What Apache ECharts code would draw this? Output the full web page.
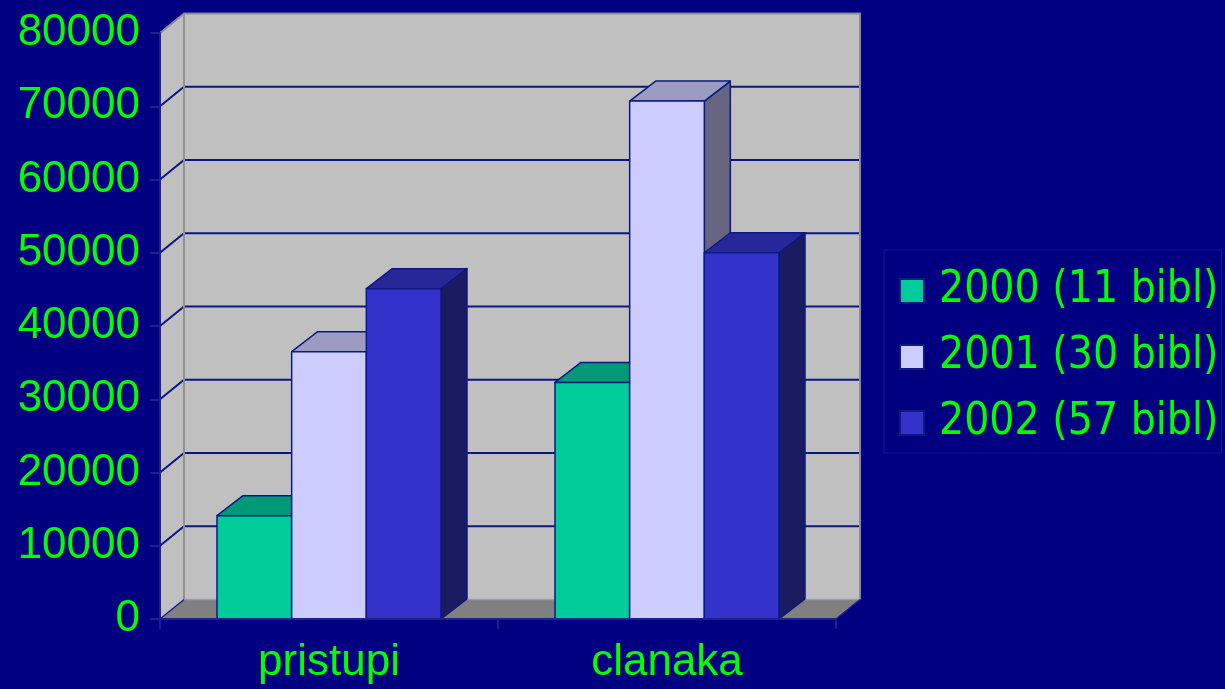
<!DOCTYPE html>
<html>
<head>
<meta charset="utf-8">
<script src="https://cdn.jsdelivr.net/npm/echarts@6/dist/echarts.min.js"></script>
<style>
html,body{margin:0;padding:0;background:#000080;}
#chart{width:1225px;height:689px;}
</style>
</head>
<body>
<div id="chart"></div>
<script>
// ---- data ----
const categories = ['pristupi', 'clanaka'];
const seriesNames = ['2000 (11 bibl)', '2001 (30 bibl)', '2002 (57 bibl)'];
const values2000 = [14100, 32300];
const values2001 = [36500, 70700];
const values2002 = [45100, 50000];
const yTicks = [0, 10000, 20000, 30000, 40000, 50000, 60000, 70000, 80000];

// ---- styles ----
const seriesValues = [values2000, values2001, values2002];
const faceColors = [
  {front: '#00CC99', top: '#009977', side: '#006e55'},
  {front: '#CCCCFF', top: '#9c9cc0', side: '#656580'},
  {front: '#3333CC', top: '#272799', side: '#1b1b62'}
];
const EDGE = '#0b1a80';
const GRID_LINE = '#0a1682';
const WALL_DX = 24, WALL_DY = 19.5;
const BAR_DX = 26, BAR_DY = 20;
const GROUP_RATIO = 0.6627;
const yMin = yTicks[0], yMax = yTicks[yTicks.length - 1];
const yStep = yTicks[1] - yTicks[0];

const chart = echarts.init(document.getElementById('chart'), null, {renderer: 'canvas'});

function renderWalls(params, api) {
  const cs = params.coordSys;
  const L = cs.x, R = cs.x + cs.width;
  const B = api.coord([0, yMin])[1];
  const T = api.coord([0, yMax])[1];
  const dx = WALL_DX, dy = WALL_DY;
  const children = [];
  children.push({type: 'polygon', shape: {points: [[L, B], [R, B], [R + dx, B - dy], [L + dx, B - dy]]},
    style: {fill: '#808080', stroke: null}});
  children.push({type: 'polygon', shape: {points: [[L + dx, T - dy], [R + dx, T - dy], [R + dx, B - dy], [L + dx, B - dy]]},
    style: {fill: '#C0C0C0', stroke: null}});
  children.push({type: 'polygon', shape: {points: [[L, B], [L, T], [L + dx, T - dy], [L + dx, B - dy]]},
    style: {fill: '#C0C0C0', stroke: null}});
  yTicks.forEach(function (v) {
    if (v === yMin || v === yMax) return;
    const y = api.coord([0, v])[1];
    children.push({type: 'polyline', shape: {points: [[L, y], [L + dx, y - dy], [R + dx, y - dy]]},
      style: {stroke: GRID_LINE, lineWidth: 2, fill: null}});
  });
  // wall edges
  children.push({type: 'line', shape: {x1: L + dx, y1: T - dy, x2: L + dx, y2: B - dy},
    style: {stroke: '#909090', lineWidth: 2}});
  children.push({type: 'polyline', shape: {points: [[L, T], [L + dx, T - dy], [R + dx, T - dy], [R + dx, B - dy]]},
    style: {stroke: '#8a8a9a', lineWidth: 2, fill: null}});
  children.push({type: 'line', shape: {x1: L + dx, y1: B - dy, x2: R + dx, y2: B - dy},
    style: {stroke: '#9a9ab8', lineWidth: 1.5}});
  children.push({type: 'line', shape: {x1: L, y1: B, x2: L + dx, y2: B - dy},
    style: {stroke: '#1a2290', lineWidth: 1.5}});
  children.push({type: 'line', shape: {x1: R, y1: B, x2: R + dx, y2: B - dy},
    style: {stroke: '#1a2290', lineWidth: 1.5}});
  return {type: 'group', children: children};
}

function makeBarRenderer(sIdx) {
  return function (params, api) {
    const cat = api.value(0);
    const val = api.value(1);
    const base = api.coord([cat, 0]);
    const topPt = api.coord([cat, val]);
    const catW = api.size([1, 0])[0];
    const bw = catW * GROUP_RATIO / 3;
    const x0 = base[0] - 1.5 * bw + sIdx * bw;
    const x1 = x0 + bw;
    const bot = base[1], top = topPt[1];
    const dx = BAR_DX, dy = BAR_DY;
    const c = faceColors[sIdx];
    const st = function (fill) { return {fill: fill, stroke: EDGE, lineWidth: 1.5, lineJoin: 'round'}; };
    return {
      type: 'group',
      children: [
        {type: 'polygon', shape: {points: [[x1, top], [x1 + dx, top - dy], [x1 + dx, bot - dy], [x1, bot]]}, style: st(c.side)},
        {type: 'polygon', shape: {points: [[x0, top], [x0 + dx, top - dy], [x1 + dx, top - dy], [x1, top]]}, style: st(c.top)},
        {type: 'polygon', shape: {points: [[x0, top], [x1, top], [x1, bot], [x0, bot]]}, style: st(c.front)}
      ]
    };
  };
}

const series = [{
  type: 'custom',
  name: 'walls',
  silent: true,
  clip: false,
  z: 1,
  renderItem: renderWalls,
  data: [[0, 0]]
}];
seriesNames.forEach(function (name, i) {
  series.push({
    type: 'custom',
    name: name,
    clip: false,
    z: 2,
    itemStyle: {color: faceColors[i].front, borderColor: EDGE, borderWidth: 1},
    renderItem: makeBarRenderer(i),
    encode: {x: 0, y: 1},
    data: seriesValues[i].map(function (v, k) { return [k, v]; })
  });
});

const option = {
  backgroundColor: '#000080',
  animation: false,
  grid: {left: 160, top: 33, width: 676, height: 586, containLabel: false},
  xAxis: {
    type: 'category',
    data: categories,
    z: 5,
    axisLine: {show: true, lineStyle: {color: '#1a2290', width: 2}},
    axisTick: {show: true, length: 10, lineStyle: {color: '#1a2290', width: 2}},
    axisLabel: {color: '#00FF00', fontSize: 44, fontFamily: 'Liberation Sans, Arial, sans-serif', margin: 22},
    splitLine: {show: false}
  },
  yAxis: {
    type: 'value',
    min: yMin, max: yMax, interval: yStep,
    z: 5,
    axisLine: {show: true, lineStyle: {color: '#1a2290', width: 2}},
    axisTick: {show: true, length: 10, lineStyle: {color: '#1a2290', width: 2}},
    axisLabel: {color: '#00FF00', fontSize: 44, fontFamily: 'Liberation Sans, Arial, sans-serif', margin: 20,
      formatter: function (v) { return String(v); }},
    splitLine: {show: false}
  },
  legend: {
    data: seriesNames,
    orient: 'vertical',
    left: 884,
    top: 250,
    icon: 'rect',
    itemWidth: 24,
    itemHeight: 24,
    itemGap: 22,
    padding: [19, 3, 8, 15],
    borderColor: '#15158f',
    borderWidth: 1,
    backgroundColor: 'transparent',
    selectedMode: false,
    textStyle: {color: '#00FF00', fontSize: 44, lineHeight: 44, fontFamily: 'DejaVu Sans Condensed, DejaVu Sans, sans-serif', padding: [0, 0, 0, 10]}
  },
  series: series
};
chart.setOption(option);
</script>
</body>
</html>
